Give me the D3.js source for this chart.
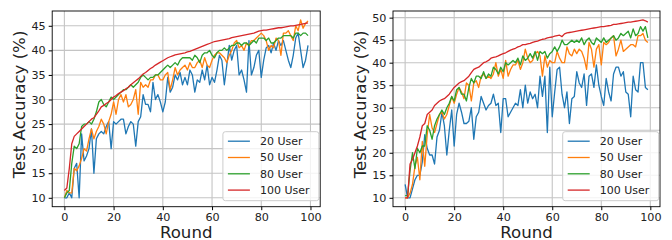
<!DOCTYPE html>
<html><head><meta charset="utf-8">
<script src="https://cdn.jsdelivr.net/npm/d3@7"></script>
<style>body{margin:0;background:#fff}svg{display:block}text{font-family:"DejaVu Sans",sans-serif}</style>
</head><body><svg id="c" width="672" height="240"></svg>
<script>
const rounds = d3.range(0, 100);
const seriesNames = ["20 User", "50 User", "80 User", "100 User"];
const colors = ["#1f77b4", "#ff7f0e", "#2ca02c", "#d62728"];
const xTicks = [0, 20, 40, 60, 80, 100];
const yTicksLeft = [10, 15, 20, 25, 30, 35, 40, 45];
const yTicksRight = [10, 15, 20, 25, 30, 35, 40, 45, 50];

const left20 = [10,10,11,10,16,17,10,23,17.5,18.5,20,24,15,22,23,23.5,23,24.5,25.5,20,25.5,25,25.5,26,26,23,24.5,25.5,25,20.5,25.5,26.5,31,29,29,27.5,33.5,30,31,29.5,27.5,29.5,34.5,31.5,32.5,35,34,35.5,33,34.5,33,36,35,31.5,34,33.5,36,34,37,33,34.5,33.5,36,39,38,33,37,41,38,40,41,35,36,34,31.5,42,35,36.5,39,40,34.5,38,40.5,41,39.5,41.5,40,42,41,42,40,38,36.5,39,42.5,43.5,40,36.5,38,41];
const left50 = [10,11.5,11,11,16,15.5,16.5,18,20,19.5,22,24,22,23.5,24.5,26,25,23,25.5,27,29.5,27,30,31,29.5,31,28.5,29,30,32,27,33.5,32.5,33,32.5,34,34,35,35,34,34,35,35.5,32,34,36.5,35,36,36.5,37,36,37.5,36.5,36.5,37.5,38,36.5,38.5,37,36.5,38,39,39.5,39.5,39,38.5,37.5,39,40,41.5,42,40.5,41,40,41.5,41,42,42,42.5,43,43.5,43,42,40,41,40.5,42.5,42,39,43.5,43.5,44,43,42,45,44,46.2,44.5,45.5,46];
const left80 = [10,11,11.5,17,20.5,20,21,24.5,25,25,25.5,25,26,27.5,29.5,30,29,28.5,29.5,30.5,30,30.5,31,31.5,32,32,32.5,33,32.5,33,33.5,34.5,35,34.5,34,34.5,34.5,35,35,35.5,36,36.5,37,36.5,37,37.5,37,38,38.5,38.5,38.5,38.5,38,39,38.5,37.5,39,39.5,39.5,40,39,38.5,39.5,40,40,40.5,40,40.5,41,41,41.5,41.5,41,41.5,41.5,41,41.5,42,41.5,42.5,42.5,42.5,42,42.5,41.5,41.5,42,42.5,42.5,43,43,43,43,42.5,43.5,43.5,43,43.5,43.5,43];
const left100 = [11.5,12,16,21,22.5,23,23.5,24,24.5,25,25.5,26,26.3,27,27.7,28.5,28.8,29.2,29.5,30,30.5,30.8,31.2,31.5,31.8,32.2,32.5,33,33.4,33.8,34.2,34.7,35.2,35.5,35.9,36.3,36.6,37,37.3,37.6,37.9,38.2,38.5,38.7,38.9,39.1,39.2,39.3,39.4,39.5,39.7,39.8,40,40.2,40.4,40.6,40.8,41,41.2,41.4,41.6,41.8,41.9,42,42.1,42.2,42.3,42.4,42.6,42.7,42.8,42.9,43,43.1,43.2,43.3,43.4,43.5,43.7,43.9,44,44.1,44.1,44.2,44.3,44.4,44.5,44.6,44.6,44.7,44.8,44.9,45,45,45.1,45.2,45.3,45.4,45.5,45.6];

const right20 = [13,10,10,12,14,15,15,18,24,21,19.5,19.5,17.5,23.5,25,29,26,19.5,25,29.5,21.5,28.5,31,29,26.5,26.5,27,30,23,28,29,32.5,31,29.5,30.5,31,33,30.5,31,24.5,32,32,28,29,30,31,30.5,34,30,35,31,33.5,32,33,30,37,32.5,37,24.5,39,28,33.5,38.5,39,33,30,33.5,26.5,32,32.5,38,35.5,34.5,37.5,30.5,37,37.5,34.5,39.5,35,32.5,30.5,36.5,33.5,31.5,37.5,39,39,37,38,33.5,33,28,37,34,33.5,40,40,34.5,34];
const right50 = [10,10,11,13,17,19,14,22.5,17,24,28.5,25.5,24.5,26.5,28.5,29,27.5,28.5,30.5,32.5,31,33,34.5,33.5,32,35.5,35,31.5,35.5,36,34.5,37,37.5,36.5,37,36.5,37.5,40,37,38.5,36.5,40.5,37,38.5,39.5,39.5,40.5,38.5,40,43,41,40,40.5,42,42.5,41.5,37,41.5,39,40.5,40,40,42.5,41,40,40,43.5,42,41.5,43,42,43,42.5,41,38.5,44.5,43,39,43,44,39.5,44.5,44,44.5,45.5,46,41.5,43,45,42.5,43,43.5,44,44,43.5,46,46,46.5,45,44.5];
const right80 = [10.5,10.5,16,20,16.5,21,20,21.5,21.5,26,25,23,26,27.5,28.5,29.5,28.5,30,31,32.5,31.5,34,34.5,33,33,31.5,34.5,36.5,35.5,37,37,36.5,38,36.5,37.5,37,39,38.5,37.5,39,38,40,39.5,40,40.5,40,41,39.5,41.5,40.5,41,42,41,42.5,40.5,42.5,42,42.5,41,42,42.5,43.5,42.5,43.5,45,44,44,44.5,45,44.5,45,44.5,45.5,44,45,45.5,44.5,44,45.5,45,44.5,45.5,44.5,45,45.5,46,45,45.5,46.5,46,46.5,47,45.5,47.5,46,46.5,48,47,48,45.5];
const right100 = [10,10,17.5,18.5,20,21.5,23.5,26,26.5,28.5,29,29.5,30.5,31,31.5,31.8,32,32.5,33,33.8,34.5,35,35.5,35.8,36,36.5,37,37.8,38.5,38.8,39,39.5,40,40.2,40.5,41,41.2,41.3,41.5,41.8,42,42.2,42.5,42.8,43,43.2,43.5,43.7,44,44,44.2,44.3,44.5,44.7,44.8,45,45.2,45.3,45.5,45.6,45.7,45.9,46,46.1,45.8,46.4,46.6,46.7,46.8,46.9,47,47.1,47.2,47.3,47.4,47.5,47.6,47.7,47.8,47.9,48,48,48.1,48.2,48.3,48.5,48.5,48.6,48.7,48.8,48.9,49,49,49.1,49.2,49.3,49.4,49.5,49.3,49];

const panels = [
  {series:[left20,left50,left80,left100], yTicks:yTicksLeft, x0:52.2, x1:320.2, ylx:25},
  {series:[right20,right50,right80,right100], yTicks:yTicksRight, x0:393, x1:660, ylx:366}
];
const plotTop = 11, plotBottom = 206.7;
const svg = d3.select("#c");

panels.forEach(p => {
  const all = p.series.flat();
  const mn = d3.min(all), mx = d3.max(all);
  const pad = (mx - mn) * 0.05;
  const x = d3.scaleLinear().domain([-4.95, 103.95]).range([p.x0, p.x1]);
  const y = d3.scaleLinear().domain([mn - pad, mx + pad]).range([plotBottom, plotTop]);
  const g = svg.append("g");
  g.selectAll(".gx").data(xTicks).join("line")
    .attr("x1", d => x(d)).attr("x2", d => x(d)).attr("y1", plotTop).attr("y2", plotBottom)
    .attr("stroke", "#c4c4c4").attr("stroke-width", 1.1);
  g.selectAll(".gy").data(p.yTicks).join("line")
    .attr("y1", d => y(d)).attr("y2", d => y(d)).attr("x1", p.x0).attr("x2", p.x1)
    .attr("stroke", "#c4c4c4").attr("stroke-width", 1.1);
  const line = d3.line().x((d, i) => x(rounds[i])).y(d => y(d));
  p.series.forEach((s, k) => {
    g.append("path").datum(s).attr("d", line).attr("fill", "none")
      .attr("stroke", colors[k]).attr("stroke-width", 1.3).attr("stroke-linejoin", "round");
  });
  g.append("rect").attr("x", p.x0).attr("y", plotTop).attr("width", p.x1 - p.x0).attr("height", plotBottom - plotTop)
    .attr("fill", "none").attr("stroke", "#000").attr("stroke-width", 0.9);
  const ax = g.append("g").attr("transform", `translate(0,${plotBottom})`)
    .call(d3.axisBottom(x).tickValues(xTicks).tickSize(3.5).tickPadding(3));
  ax.select(".domain").remove();
  ax.selectAll("text").attr("font-size", 11.2).attr("font-family", "DejaVu Sans").attr("fill", "#222");
  const ay = g.append("g").attr("transform", `translate(${p.x0},0)`)
    .call(d3.axisLeft(y).tickValues(p.yTicks).tickSize(3.5).tickPadding(3));
  ay.select(".domain").remove();
  ay.selectAll("text").attr("font-size", 11.2).attr("font-family", "DejaVu Sans").attr("fill", "#222");
  g.append("text").attr("x", (p.x0 + p.x1) / 2).attr("y", 238.2).attr("text-anchor", "middle")
    .attr("font-size", 16.6).attr("fill", "#222").text("Round");
  g.append("text").attr("transform", `translate(${p.ylx},104.5) rotate(-90)`)
    .attr("text-anchor", "middle").attr("font-size", 16.6).attr("fill", "#222").text("Test Accuracy (%)");
  const lw = 96, lh = 69;
  const lx = p.x1 - 1.3 - lw, ly = plotBottom - 6 - lh;
  const lg = g.append("g").attr("transform", `translate(${lx},${ly})`);
  lg.append("rect").attr("width", lw).attr("height", lh).attr("rx", 2.5)
    .attr("fill", "#fff").attr("fill-opacity", 0.8).attr("stroke", "#cccccc").attr("stroke-width", 1);
  seriesNames.forEach((n, k) => {
    const yy = 9.5 + k * 16.3;
    lg.append("line").attr("x1", 5).attr("x2", 27).attr("y1", yy).attr("y2", yy)
      .attr("stroke", colors[k]).attr("stroke-width", 1.3);
    lg.append("text").attr("x", 37).attr("y", yy + 4).attr("font-size", 11).attr("fill", "#222").text(n);
  });
});
</script></body></html>
